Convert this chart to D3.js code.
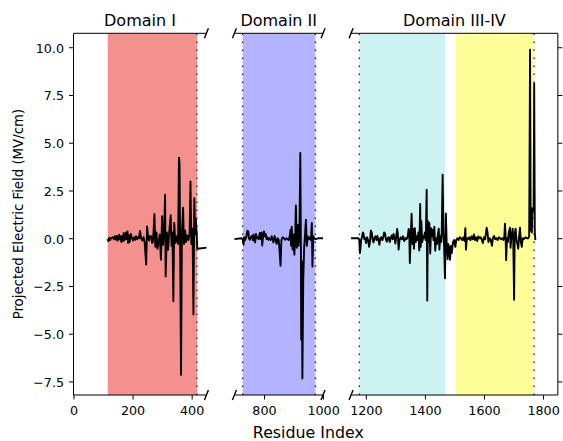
<!DOCTYPE html>
<html><head><meta charset="utf-8">
<script src="https://cdn.jsdelivr.net/npm/d3@7"></script>
<style>
body{margin:0;background:#fff}
svg{display:block}
text{font-family:"DejaVu Sans",sans-serif;fill:#000}
</style>
</head><body>
<svg id="chart" width="563" height="441"></svg>
<script>
// ---------------- data ----------------
const residues = [
 115,118,121,124,127,133,137,140,144,146,150,154,157,159,162,165,168,170,173,175,178,180,183,185,188,190,194,198,202,206,209,212,216,219,222,225,229,233,237,241,246,249,253,256,258,263,266,269,274,277,281,284,288,292,296,300,303,307,310,312,316,320,325,329,332,335,338,341,345,350,354,357,359,361,364,367,371,374,378,381,385,389,393,396,399,403,406,409,412,414,417,419,
 724,728,731,733,736,740,744,747,749,752,755,759,762,765,768,770,773,776,779,782,786,789,792,794,797,800,803,806,809,812,815,818,822,826,829,832,836,840,843,846,850,853,856,859,863,867,872,876,880,884,887,890,892,894,897,900,903,906,908,911,914,917,920,923,925,926,928,930,933,936,939,942,945,948,952,956,959,962,964,967,970,975,985,
 1175,1178,1180,1182,1184,1187,1190,1192,1195,1198,1201,1204,1208,1211,1214,1217,1220,1223,1226,1229,1233,1236,1239,1242,1246,1249,1252,1256,1259,1262,1265,1268,1271,1274,1278,1281,1284,1288,1291,1294,1297,1300,1303,1306,1308,1311,1314,1318,1322,1326,1330,1334,1338,1342,1345,1347,1349,1352,1355,1358,1361,1363,1366,1369,1372,1375,1378,1381,1384,1386,1388,1391,1394,1397,1400,1403,1406,1408,1410,1413,1415,1418,1421,1424,1427,1429,1432,1435,1438,1441,1444,1447,1449,1452,1455,1457,1460,1463,1465,1468,1471,1474,1477,1479,1482,1485,1488,1491,1495,1499,
 1503,1506,1510,1514,1518,1522,1526,1530,1534,1537,1539,1542,1546,1550,1554,1558,1562,1566,1569,1573,1577,1581,1585,1589,1593,1596,1600,1604,1609,1612,1615,1619,1623,1627,1630,1634,1638,1642,1646,1650,1654,1658,1662,1666,1669,1671,1673,1675,1678,1681,1684,1688,1690,1693,1697,1699,1702,1704,1707,1710,1713,1716,1719,1722,1725,1728,1731,1735,1740,1745,1750,1753,1756,1758,1760,1762,1764,1766,1768,1770,1772,1774
];
const field = [
 -0.05,-0.15,0.02,-0.1,0.0,0.05,-0.05,0.1,-0.08,0.12,-0.12,0.18,-0.05,0.1,-0.2,0.12,-0.15,0.28,-0.1,0.05,0.3,-0.05,0.35,-0.25,0.15,-0.2,0.22,0.0,-0.12,0.05,-0.08,0.1,-0.05,0.05,0.0,0.38,0.0,-0.12,0.05,-0.22,-1.38,0.62,0.0,-0.12,0.1,0.1,-0.25,-0.2,1.27,-0.45,0.3,-0.55,-0.25,0.2,-1.12,1.15,-0.35,0.4,2.28,-2.0,0.3,-0.6,0.5,1.2,-0.4,0.3,-3.3,0.8,-0.25,0.1,-0.3,4.22,3.9,-0.5,-7.15,0.2,1.6,-0.3,0.4,-0.2,0.15,-0.1,0.2,2.97,-0.3,0.5,-4.0,2.1,0.2,1.0,0.3,-0.55,
 0.0,-0.05,-0.34,0.05,-0.1,0.05,0.39,0.35,0.0,-0.08,0.05,0.12,-0.1,0.2,-0.15,-0.22,0.22,0.0,0.05,-0.05,0.28,-0.05,0.3,-0.38,0.1,0.35,0.1,0.22,-0.05,0.05,-0.08,0.0,-0.1,0.1,-0.05,-0.22,0.12,-0.15,-0.3,0.0,-0.1,-0.69,-1.44,-0.1,0.05,0.0,-0.08,0.0,-0.05,-0.1,0.1,0.45,-0.4,0.6,-0.6,0.2,-0.86,0.3,1.72,-0.5,0.7,-0.4,0.2,4.46,-0.5,-5.3,-1.2,-7.35,-2.2,-0.5,0.2,0.97,-0.4,0.1,-0.05,0.05,-0.1,0.8,-1.48,0.1,0.0,-0.05,0.0,
 0.0,-0.1,-0.78,-0.5,-0.1,0.05,0.3,0.25,-0.05,0.0,-0.25,0.05,-0.1,-0.45,-0.2,0.4,0.3,-0.05,-0.22,0.0,0.1,-0.1,0.12,-0.05,-0.35,0.0,0.05,-0.1,0.05,0.3,0.25,-0.05,-0.18,0.0,0.05,-0.2,0.0,0.15,-0.05,0.22,0.0,-0.28,0.1,0.48,0.3,-0.6,-0.1,0.05,-0.05,0.1,-0.15,0.0,-0.05,0.1,0.48,0.4,-1.3,0.1,1.28,-0.3,0.5,-0.55,0.52,-0.2,0.1,-0.1,0.3,-0.64,1.79,-0.45,0.9,-0.2,0.1,0.0,0.3,-0.1,2.54,-3.26,0.9,-0.2,0.8,-0.8,0.52,0.1,0.45,-0.1,0.6,-0.65,0.0,-0.3,0.2,0.5,-0.6,0.1,-0.2,0.3,3.33,0.2,-0.4,-2.1,1.3,-0.4,-1.1,-0.3,-0.5,-1.13,-0.4,-0.78,-0.2,-0.1,
 -0.45,-0.1,0.0,-0.1,0.05,0.0,-0.1,0.05,-0.15,0.53,-0.6,0.0,-0.05,0.05,-0.1,0.1,-0.05,0.2,-0.1,0.05,-0.15,0.1,0.0,0.05,-0.1,-0.25,0.05,-0.05,0.55,0.3,-0.2,0.0,-0.1,-0.4,0.0,0.12,-0.05,0.0,-0.1,0.05,0.0,-0.05,0.0,-0.1,0.1,0.76,0.2,-1.15,0.0,-0.2,0.3,0.55,-0.5,0.1,0.5,0.0,-3.22,0.2,0.5,-0.1,-0.3,-0.55,0.1,0.55,-0.2,-0.45,0.0,-0.05,0.05,0.0,0.0,0.1,9.87,0.4,1.6,0.3,1.55,1.4,1.6,8.1,0.3,-0.1
];
const panelNames = ["Domain I", "Domain II", "Domain III-IV"];
const panelStart = [0, 700, 1150];
const panelEnd = [450, 1000, 1850];
const panelTicks = [[0, 200, 400], [800, 1000], [1200, 1400, 1600, 1800]];
const yTicks = [-7.5, -5, -2.5, 0, 2.5, 5, 7.5, 10];
const yLimits = [-8.21, 10.73];
const shadeStart = [116, 728, 1178, 1505];
const shadeEnd = [418, 974, 1468, 1769.5];
const shadePanel = [0, 1, 2, 2];
const shadeColor = ["#f4908d", "#b3b3ff", "#ccf2f2", "#ffff99"];
const dottedAt = [418, 728, 974, 1178, 1769.5];
const xLabel = "Residue Index";
const yLabel = "Projected Electric Field (MV/cm)";

// ---------------- layout ----------------
const svg = d3.select("#chart");
const plotTop = 33.3, plotBottom = 395, left0 = 73.5, gap = 28, k = 0.2954;
const y = d3.scaleLinear().domain(yLimits).range([plotBottom, plotTop]);
const pts = residues.map((r, i) => [r, field[i]]);

const panels = [];
let xs = left0;
for (let i = 0; i < 3; i++) {
  const w = (panelEnd[i] - panelStart[i]) * k;
  panels.push({x0: xs, x1: xs + w,
    x: d3.scaleLinear().domain([panelStart[i], panelEnd[i]]).range([xs, xs + w])});
  xs += w + gap;
}

const defs = svg.append("defs");
panels.forEach((p, i) => {
  defs.append("clipPath").attr("id", "clip" + i)
    .append("rect").attr("x", p.x0).attr("y", plotTop).attr("width", p.x1 - p.x0).attr("height", plotBottom - plotTop);
});

panels.forEach((p, i) => {
  const g = svg.append("g");
  const inner = g.append("g").attr("clip-path", `url(#clip${i})`);
  shadeStart.forEach((s, j) => {
    if (shadePanel[j] !== i) return;
    inner.append("rect").attr("x", p.x(s)).attr("y", plotTop)
      .attr("width", p.x(shadeEnd[j]) - p.x(s)).attr("height", plotBottom - plotTop)
      .attr("fill", shadeColor[j]);
  });
  dottedAt.forEach(d => {
    if (d < panelStart[i] || d > panelEnd[i]) return;
    inner.append("line").attr("x1", p.x(d)).attr("x2", p.x(d)).attr("y1", plotBottom).attr("y2", plotTop)
      .attr("stroke", "#111").attr("stroke-width", 1.2).attr("stroke-dasharray", "1.4,6.6");
  });
  inner.append("path").datum(pts)
    .attr("d", d3.line().x(d => p.x(d[0])).y(d => y(d[1])))
    .attr("fill", "none").attr("stroke", "#000").attr("stroke-width", 1.9)
    .attr("stroke-linejoin", "round");

  const ax = g.append("g").attr("transform", `translate(0,${plotBottom})`)
    .call(d3.axisBottom(p.x).tickValues(panelTicks[i]).tickSize(4.5).tickPadding(6.8).tickFormat(d3.format("d")));
  ax.select(".domain").remove();
  ax.selectAll("line").attr("stroke", "#000").attr("stroke-width", 1);
  ax.selectAll("text").attr("font-size", 12.7).attr("font-family", '"DejaVu Sans",sans-serif');

  const sp = (x1, y1, x2, y2) => g.append("line").attr("x1", x1).attr("y1", y1).attr("x2", x2).attr("y2", y2)
    .attr("stroke", "#000").attr("stroke-width", 1);
  sp(p.x0, plotTop, p.x1, plotTop);
  sp(p.x0, plotBottom, p.x1, plotBottom);
  if (i === 0) sp(p.x0, plotTop, p.x0, plotBottom);
  if (i === 2) sp(p.x1, plotTop, p.x1, plotBottom);

  g.append("text").attr("x", (p.x0 + p.x1) / 2).attr("y", 26).attr("text-anchor", "middle")
    .attr("font-size", 16).text(panelNames[i]);

  const mark = (xx, yy) => g.append("line").attr("x1", xx - 2).attr("y1", yy + 5).attr("x2", xx + 2).attr("y2", yy - 5)
    .attr("stroke", "#000").attr("stroke-width", 1.4);
  if (i > 0) { mark(p.x0, plotTop); mark(p.x0, plotBottom); }
  if (i < 2) { mark(p.x1, plotTop); mark(p.x1, plotBottom); }
});

const yax = svg.append("g").attr("transform", `translate(${panels[0].x0},0)`)
  .call(d3.axisLeft(y).tickValues(yTicks).tickSize(4.5).tickPadding(5).tickFormat(d3.format(".1f")));
yax.select(".domain").remove();
yax.selectAll("line").attr("stroke", "#000").attr("stroke-width", 1);
yax.selectAll("text").attr("font-size", 12.7).attr("dy", "0.38em").attr("font-family", '"DejaVu Sans",sans-serif');

const yar = svg.append("g").attr("transform", `translate(${panels[2].x1},0)`)
  .call(d3.axisRight(y).tickValues(yTicks).tickSize(4.5).tickFormat(""));
yar.select(".domain").remove();
yar.selectAll("line").attr("stroke", "#000").attr("stroke-width", 1);

svg.append("text").attr("x", 308.3).attr("y", 438).attr("text-anchor", "middle")
  .attr("font-size", 15.8).text(xLabel);
svg.append("text").attr("transform", `translate(23,${(plotTop + plotBottom) / 2}) rotate(-90)`)
  .attr("text-anchor", "middle").attr("font-size", 13.3).text(yLabel);
</script>
</body></html>
